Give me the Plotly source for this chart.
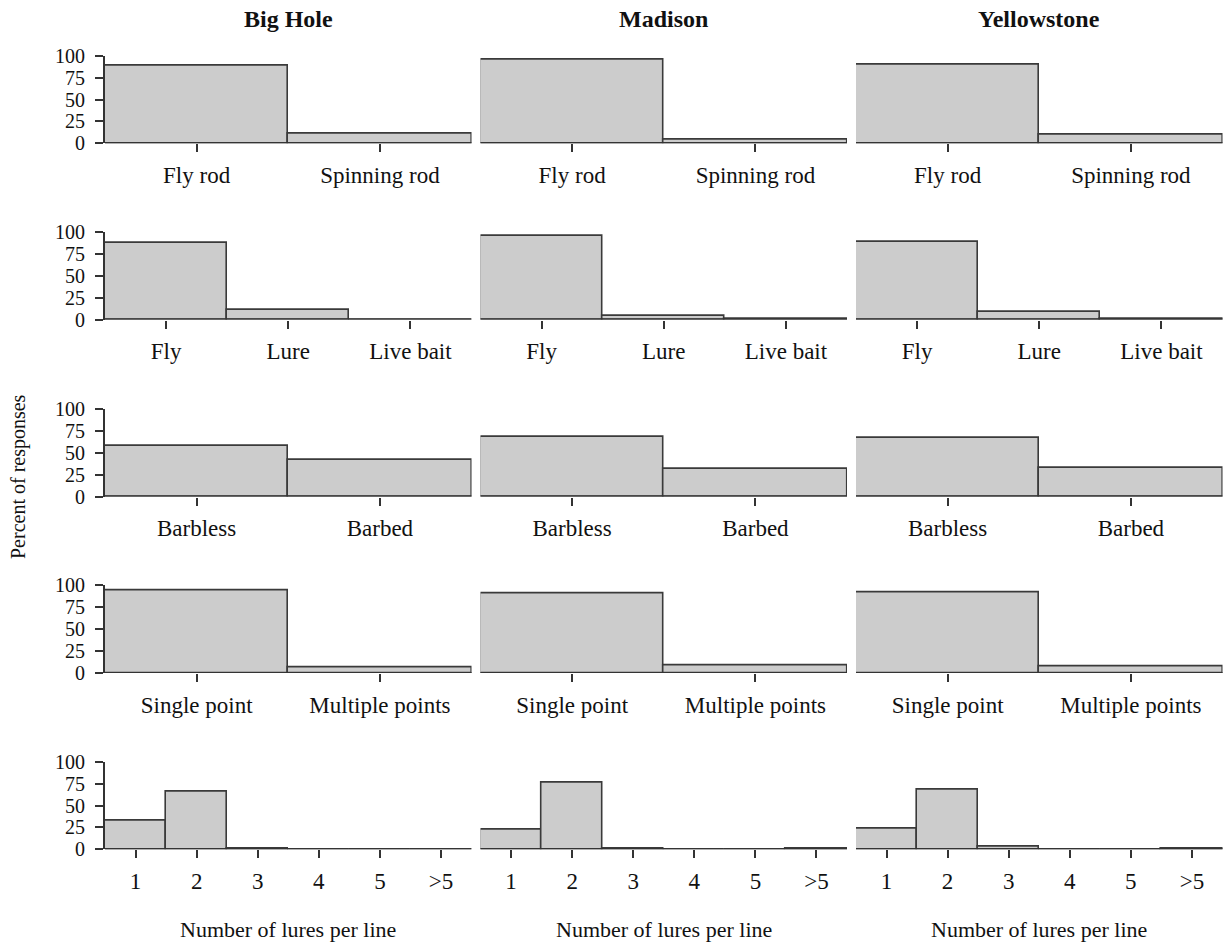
import plotly.graph_objects as go

# ---------------- data ----------------
sites = ["Big Hole", "Madison", "Yellowstone"]

rod_categories = ["Fly rod", "Spinning rod"]
tackle_categories = ["Fly", "Lure", "Live bait"]
hook_categories = ["Barbless", "Barbed"]
point_categories = ["Single point", "Multiple points"]
lure_categories = ["1", "2", "3", "4", "5", ">5"]

big_hole_rod = [89, 11]
madison_rod = [96, 4]
yellowstone_rod = [90, 10]

big_hole_tackle = [88, 11, 0]
madison_tackle = [95, 4, 1]
yellowstone_tackle = [89, 9, 1]

big_hole_hook = [58, 42]
madison_hook = [68, 32]
yellowstone_hook = [67, 33]

big_hole_points = [94, 6]
madison_points = [91, 9]
yellowstone_points = [92, 8]

big_hole_lures = [33, 66, 0.5, 0, 0, 0]
madison_lures = [22, 76, 0.5, 0, 0, 1]
yellowstone_lures = [24, 68, 3, 0, 0, 1]

y_ticks = [0, 25, 50, 75, 100]
y_title = "Percent of responses"
x_title = "Number of lures per line"

panels = [
    (rod_categories, [big_hole_rod, madison_rod, yellowstone_rod]),
    (tackle_categories, [big_hole_tackle, madison_tackle, yellowstone_tackle]),
    (hook_categories, [big_hole_hook, madison_hook, yellowstone_hook]),
    (point_categories, [big_hole_points, madison_points, yellowstone_points]),
    (lure_categories, [big_hole_lures, madison_lures, yellowstone_lures]),
]

# ---------------- layout geometry (pixels) ----------------
W, H = 1225, 945
col_px = [(105, 471.5), (480.5, 847), (856, 1222.5)]
row_zero_px = [143.3, 319.5, 496.5, 673, 849.3]
plot_h = 87.6

FONT = "Liberation Serif, Times New Roman, serif"
AX = "#333333"
TXT = "#111111"

fig = go.Figure()
layout = {}
shapes = []

for r, (cats, vals_list) in enumerate(panels):
    z = row_zero_px[r]
    ydom = [1 - z / H, 1 - (z - plot_h) / H]
    for c in range(3):
        idx = r * 3 + c + 1
        sfx = "" if idx == 1 else str(idx)
        fig.add_trace(go.Bar(
            x=cats, y=vals_list[c], xaxis="x" + sfx, yaxis="y" + sfx,
            width=1, marker=dict(color="#cccccc", line=dict(color="#3a3a3a", width=1.6)),
            showlegend=False, hoverinfo="x+y",
        ))
        layout["xaxis" + sfx] = dict(
            domain=[col_px[c][0] / W, col_px[c][1] / W], anchor="y" + sfx,
            type="category", range=[-0.5, len(cats) - 0.5],
            showline=False, automargin=False,
            ticks="outside", ticklen=8, tickwidth=2, tickcolor=AX,
            showgrid=False, zeroline=False, fixedrange=True,
            tickfont=dict(family=FONT, size=23, color=TXT),
            ticklabelstandoff=3,
        )
        ya = dict(
            domain=ydom, anchor="x" + sfx, range=[0, 100], automargin=False,
            showgrid=False, zeroline=False, fixedrange=True,
        )
        if c == 0:
            ya.update(showline=True, linecolor=AX, linewidth=2,
                      ticks="outside", ticklen=8, tickwidth=2, tickcolor=AX,
                      tickvals=y_ticks,
                      tickfont=dict(family=FONT, size=20, color=TXT),
                      ticklabelstandoff=6)
        else:
            ya.update(showline=False, showticklabels=False, ticks="")
        layout["yaxis" + sfx] = ya
        # baseline (x axis line) drawn exactly at zero
        shapes.append(dict(type="line", xref="x" + sfx + " domain", yref="y" + sfx,
                           x0=0, x1=1, y0=0, y1=0, layer="above",
                           line=dict(color=AX, width=2)))

annotations = []
for c, s in enumerate(sites):
    cx = (col_px[c][0] + col_px[c][1]) / 2 / W
    annotations.append(dict(text="<b>" + s + "</b>", x=cx, y=1 - 19 / H, xref="paper", yref="paper",
                            showarrow=False, xanchor="center", yanchor="middle",
                            font=dict(family=FONT, size=24, color=TXT)))
    annotations.append(dict(text=x_title, x=cx, y=1 - 929 / H, xref="paper", yref="paper",
                            showarrow=False, xanchor="center", yanchor="middle",
                            font=dict(family=FONT, size=22, color=TXT)))
annotations.append(dict(text=y_title, x=18 / W, y=1 - 477 / H, xref="paper", yref="paper",
                        showarrow=False, xanchor="center", yanchor="middle", textangle=-90,
                        font=dict(family=FONT, size=20, color=TXT)))

fig.update_layout(
    width=W, height=H, margin=dict(l=0, r=0, t=0, b=0, autoexpand=False),
    paper_bgcolor="white", plot_bgcolor="white",
    bargap=0, annotations=annotations, shapes=shapes, **layout,
)

fig.write_html("out.html")
